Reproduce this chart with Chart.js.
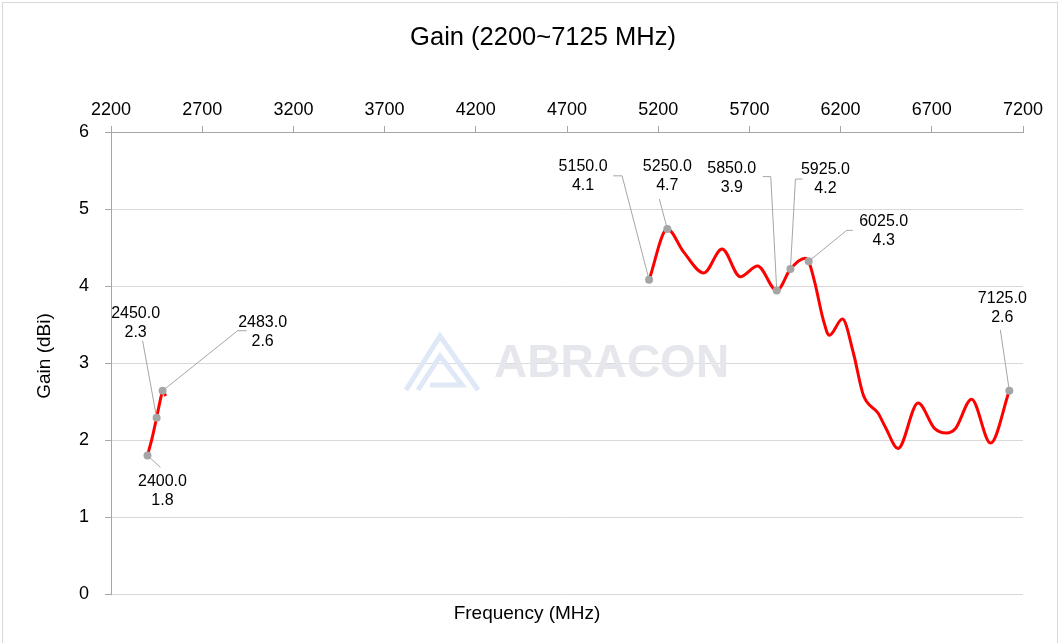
<!DOCTYPE html>
<html>
<head>
<meta charset="utf-8">
<title>Gain (2200~7125 MHz)</title>
<script src="https://cdn.jsdelivr.net/npm/chart.js@4.4.1/dist/chart.umd.min.js"></script>
<style>
  html, body { margin: 0; padding: 0; background: #fff; }
  canvas { display: block; }
</style>
</head>
<body>
<canvas id="gainCanvas" width="1060" height="643"></canvas>
<script>
// 2.4 GHz band
const freqBand24 = [2400, 2425, 2450, 2475, 2483, 2500];
const gainBand24 = [1.80, 2.02, 2.29, 2.57, 2.64, 2.57];

// 5 - 7 GHz band
const freqBand5 = [5150, 5250, 5340, 5450, 5550, 5650, 5745, 5850, 5925, 6005, 6025, 6060, 6105, 6138,
                   6210, 6270, 6325, 6405, 6445, 6515, 6625, 6715, 6780, 6830, 6918, 7022, 7125];
const gainBand5 = [4.08, 4.74, 4.44, 4.17, 4.48, 4.12, 4.26, 3.94, 4.22, 4.36, 4.32, 4.03, 3.56, 3.36,
                   3.57, 3.13, 2.58, 2.35, 2.17, 1.89, 2.48, 2.15, 2.09, 2.15, 2.53, 1.96, 2.64];

// frequencies that get a marker + label
const markedFreqs = [2400, 2450, 2483, 5150, 5250, 5850, 5925, 6025, 7125];

// axis ticks
const freqTicks = [2200, 2700, 3200, 3700, 4200, 4700, 5200, 5700, 6200, 6700, 7200];
const gainTicks = [0, 1, 2, 3, 4, 5, 6];

const FONT = '"Liberation Sans", Arial, sans-serif';
const GREY = '#a6a6a6';

// where each label sits relative to its marker (pixels)
const labelPos = {
    2400: { dx: 15, dy: 36, lx: 13, ly: 12 },
    2450: { dx: -21, dy: -95, lx: -14, ly: -77 },
    2483: { dx: 100, dy: -59, lx: 75, ly: -60, elbow: 9 },
    5150: { dx: -66, dy: -104, lx: -27, ly: -104, elbow: -9 },
    5250: { dx: 0, dy: -53, lx: -8, ly: -30 },
    5850: { dx: -45, dy: -113, lx: -6, ly: -114, elbow: -8 },
    5925: { dx: 35, dy: -90, lx: 5, ly: -90, elbow: 7 },
    6025: { dx: 75, dy: -30, lx: 38, ly: -31, elbow: 6 },
    7125: { dx: -7, dy: -83, lx: -9, ly: -61 }
};

function toPoints(xs, ys) {
    return xs.map((x, i) => ({ x: x, y: ys[i] }));
}

function lookupGain(f) {
    let i = freqBand24.indexOf(f);
    if (i >= 0) return gainBand24[i];
    i = freqBand5.indexOf(f);
    return gainBand5[i];
}

const markerPoints = markedFreqs.map(f => ({ x: f, y: lookupGain(f) }));

const framePlugin = {
    id: 'frame',
    beforeDraw(chart) {
        const ctx = chart.ctx;
        ctx.save();
        ctx.fillStyle = '#fff';
        ctx.fillRect(0, 0, chart.width, chart.height);
        ctx.strokeStyle = '#d9d9d9';
        ctx.lineWidth = 1;
        ctx.strokeRect(2.5, 2.5, chart.width - 5, chart.height + 20);
        ctx.restore();
    }
};

const watermarkPlugin = {
    id: 'watermark',
    beforeDatasetsDraw(chart) {
        const ctx = chart.ctx;
        ctx.save();
        // logo
        ctx.strokeStyle = '#dfe8f6';
        ctx.lineWidth = 5;
        ctx.lineJoin = 'miter';
        ctx.beginPath();
        ctx.moveTo(406, 390);
        ctx.lineTo(440, 336);
        ctx.lineTo(478, 390);
        ctx.stroke();
        ctx.beginPath();
        ctx.moveTo(418, 390);
        ctx.lineTo(440, 356);
        ctx.lineTo(462, 385);
        ctx.lineTo(430, 385);
        ctx.stroke();
        // name
        ctx.fillStyle = '#e5e7ec';
        ctx.font = 'bold 46px ' + FONT;
        ctx.textBaseline = 'alphabetic';
        ctx.fillText('ABRACON', 494, 377);
        ctx.restore();
    }
};

const labelPlugin = {
    id: 'pointLabels',
    afterDatasetsDraw(chart) {
        const ctx = chart.ctx;
        const xs = chart.scales.x;
        const ys = chart.scales.y;
        ctx.save();
        markerPoints.forEach(p => {
            const pos = labelPos[p.x];
            const px = xs.getPixelForValue(p.x);
            const py = ys.getPixelForValue(p.y);
            ctx.strokeStyle = GREY;
            ctx.lineWidth = 1;
            ctx.beginPath();
            ctx.moveTo(px, py);
            ctx.lineTo(px + pos.lx, py + pos.ly);
            if (pos.elbow) ctx.lineTo(px + pos.lx + pos.elbow, py + pos.ly);
            ctx.stroke();

            ctx.fillStyle = '#000';
            ctx.font = '16px ' + FONT;
            ctx.textAlign = 'center';
            ctx.textBaseline = 'middle';
            ctx.fillText(p.x.toFixed(1), px + pos.dx, py + pos.dy - 9.5);
            ctx.fillText(p.y.toFixed(1), px + pos.dx, py + pos.dy + 9.5);
        });
        ctx.restore();
    },
    afterDraw(chart) {
        const ctx = chart.ctx;
        ctx.save();
        ctx.fillStyle = '#000';
        ctx.font = '19px ' + FONT;
        ctx.textAlign = 'center';
        ctx.textBaseline = 'middle';
        ctx.fillText('Frequency (MHz)', 527, 614);
        ctx.translate(45, 356);
        ctx.rotate(-Math.PI / 2);
        ctx.fillText('Gain (dBi)', 0, 0);
        ctx.restore();
    }
};

const ctx = document.getElementById('gainCanvas').getContext('2d');
new Chart(ctx, {
    type: 'line',
    data: {
        datasets: [
            {
                label: 'Markers',
                data: markerPoints,
                showLine: false,
                pointRadius: 4,
                pointBackgroundColor: '#a5a5a5',
                pointBorderWidth: 0,
                order: 0
            },
            {
                label: '2.4 GHz',
                data: toPoints(freqBand24, gainBand24),
                borderColor: '#ff0000',
                borderWidth: 3,
                pointRadius: 0,
                cubicInterpolationMode: 'monotone',
                order: 1
            },
            {
                label: '5-7 GHz',
                data: toPoints(freqBand5, gainBand5),
                borderColor: '#ff0000',
                borderWidth: 3,
                pointRadius: 0,
                cubicInterpolationMode: 'monotone',
                order: 1
            }
        ]
    },
    options: {
        responsive: false,
        animation: false,
        devicePixelRatio: 1,
        layout: { padding: { left: 63, right: 37, top: 5, bottom: 49 } },
        plugins: {
            legend: { display: false },
            tooltip: { enabled: false },
            title: {
                display: true,
                text: 'Gain (2200~7125 MHz)',
                color: '#000',
                font: { family: FONT, size: 25.5, weight: 'normal' },
                padding: { top: 18, bottom: 10 }
            }
        },
        scales: {
            x: {
                type: 'linear',
                position: 'top',
                min: freqTicks[0],
                max: freqTicks[freqTicks.length - 1],
                afterBuildTicks: s => { s.ticks = freqTicks.map(v => ({ value: v })); },
                afterFit: s => { s.height = 68.4; },
                grid: { drawOnChartArea: false, drawTicks: true, tickLength: 6, color: GREY, tickColor: GREY },
                border: { color: GREY, width: 1 },
                ticks: {
                    color: '#000',
                    padding: 5,
                    maxRotation: 0,
                    font: { family: FONT, size: 18 },
                    callback: v => String(v)
                }
            },
            y: {
                min: gainTicks[0],
                max: gainTicks[gainTicks.length - 1],
                afterBuildTicks: s => { s.ticks = gainTicks.map(v => ({ value: v })); },
                afterFit: s => { s.width = 48; },
                grid: { color: '#d9d9d9', tickColor: GREY, tickLength: 6, drawTicks: true },
                border: { color: GREY, width: 1 },
                ticks: {
                    color: '#000',
                    padding: 16,
                    font: { family: FONT, size: 18 },
                    callback: v => String(v)
                }
            }
        }
    },
    plugins: [framePlugin, watermarkPlugin, labelPlugin]
});
</script>
</body>
</html>
